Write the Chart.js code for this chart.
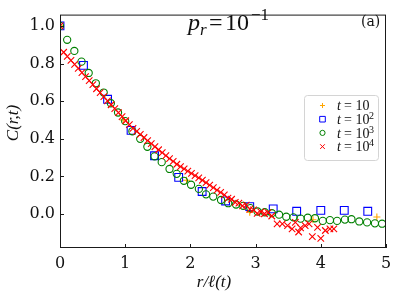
<!DOCTYPE html>
<html>
<head>
<meta charset="utf-8">
<script src="https://cdn.jsdelivr.net/npm/chart.js@4.4.1/dist/chart.umd.min.js"></script>
<style>
  html, body { margin: 0; padding: 0; background: #fff; }
</style>
</head>
<body>
<canvas id="corrChart" width="398" height="298"></canvas>
<script>
// axis ticks
const xTicks = [0, 1, 2, 3, 4, 5];
const yTicks = [0.0, 0.2, 0.4, 0.6, 0.8, 1.0];

// t = 10
const r10 = [0, 0.97, 1.94, 2.91, 3.88, 4.86];
const c10 = [1.0, 0.50, 0.18, 0.01, -0.03, -0.015];

// t = 10^2
const r100 = [0, 0.36, 0.73, 1.09, 1.45, 1.82, 2.18, 2.54, 2.91, 3.27, 3.63, 4.0, 4.36, 4.72];
const c100 = [1.0, 0.79, 0.61, 0.445, 0.31, 0.195, 0.12, 0.07, 0.04, 0.028, 0.015, 0.02, 0.02, 0.015];

// t = 10^3
const r1000 = [0, 0.11, 0.22, 0.33, 0.44, 0.55, 0.67, 0.78, 0.89, 1.0, 1.11, 1.23, 1.34, 1.45, 1.56,
  1.68, 1.79, 1.9, 2.01, 2.13, 2.24, 2.35, 2.47, 2.58, 2.7, 2.81, 2.92, 3.03, 3.14, 3.25, 3.36,
  3.47, 3.58, 3.69, 3.8, 3.91, 4.03, 4.14, 4.25, 4.37, 4.47, 4.59, 4.71, 4.83, 4.94];
const c1000 = [1.0, 0.926, 0.867, 0.81, 0.75, 0.695, 0.646, 0.589, 0.54, 0.494, 0.44, 0.40, 0.358, 0.307, 0.276,
  0.24, 0.214, 0.177, 0.156, 0.134, 0.105, 0.093, 0.075, 0.058, 0.051, 0.044, 0.032, 0.014, 0.01, 0.005, -0.003,
  -0.014, -0.017, -0.024, -0.019, -0.022, -0.036, -0.032, -0.036, -0.029, -0.027, -0.039, -0.044, -0.049, -0.051];

// t = 10^4
const r10000 = [0, 0.056, 0.112, 0.168, 0.224, 0.28, 0.336, 0.392, 0.448, 0.504, 0.56, 0.616, 0.672, 0.728,
  0.784, 0.84, 0.896, 0.952, 1.008, 1.064, 1.12, 1.176, 1.232, 1.288, 1.344, 1.4, 1.456, 1.512, 1.568,
  1.624, 1.68, 1.736, 1.792, 1.848, 1.904, 1.96, 2.016, 2.072, 2.128, 2.184, 2.24, 2.296, 2.352, 2.408,
  2.464, 2.52, 2.576, 2.632, 2.688, 2.744, 2.8, 2.856, 2.912, 2.968, 3.024, 3.08, 3.136, 3.192, 3.248,
  3.33, 3.41, 3.49, 3.56, 3.61, 3.66, 3.69, 3.76, 3.82, 3.87, 3.95, 4.0, 4.07, 4.14, 4.2];
const c10000 = [1.0, 0.86, 0.838, 0.817, 0.795, 0.774, 0.752, 0.731, 0.709, 0.688, 0.666, 0.645, 0.624, 0.602,
  0.581, 0.56, 0.539, 0.518, 0.496, 0.475, 0.456, 0.44, 0.424, 0.407, 0.391, 0.375, 0.358, 0.342, 0.327,
  0.311, 0.295, 0.28, 0.265, 0.252, 0.24, 0.228, 0.216, 0.204, 0.192, 0.18, 0.167, 0.154, 0.141, 0.128,
  0.115, 0.102, 0.085, 0.079, 0.062, 0.058, 0.044, 0.048, 0.026, 0.022, 0.004, 0.012, 0.002, 0.008, -0.01,
  -0.052, -0.052, -0.061, -0.078, -0.044, -0.095, -0.073, -0.061, -0.052, -0.12, -0.07, -0.129, -0.087, -0.078, -0.078];

const toPts = (xs, ys) => xs.map((v, i) => ({ x: v, y: ys[i] }));

const series = [
  { label: "t = 10",  sup: "",  data: toPts(r10, c10),       color: "#ffa500", style: "cross",    radius: 3.5, order: 3 },
  { label: "t = 10",  sup: "2", data: toPts(r100, c100),     color: "#0000ff", style: "rect",     radius: 5.5, order: 2 },
  { label: "t = 10",  sup: "3", data: toPts(r1000, c1000),   color: "#008000", style: "circle",   radius: 3.6, order: 1 },
  { label: "t = 10",  sup: "4", data: toPts(r10000, c10000), color: "#ff0000", style: "crossRot", radius: 4.6, order: 0 },
];

const serif = "'Liberation Serif', 'DejaVu Serif', serif";

const decor = {
  id: "decor",
  afterDatasetsDraw(chart) {
    const { ctx, chartArea: a, scales: { x, y } } = chart;
    ctx.save();
    ctx.strokeStyle = "#1a1a1a";
    ctx.lineWidth = 1;
    ctx.strokeRect(a.left + 0.5, a.top + 0.5, a.right - a.left - 1, a.bottom - a.top - 1);
    ctx.beginPath();
    xTicks.forEach(v => {
      const px = Math.round(x.getPixelForValue(v)) + 0.5;
      ctx.moveTo(px, a.bottom);
      ctx.lineTo(px, a.bottom - 4);
    });
    yTicks.forEach(v => {
      const py = Math.round(y.getPixelForValue(v)) + 0.5;
      ctx.moveTo(a.left, py);
      ctx.lineTo(a.left + 4, py);
    });
    ctx.stroke();
    ctx.restore();
  },
  afterDraw(chart) {
    const { ctx, chartArea: a } = chart;
    ctx.save();
    ctx.fillStyle = "#111";

    // axis titles
    ctx.textAlign = "center";
    ctx.textBaseline = "middle";
    ctx.font = "italic 17px " + serif;
    ctx.fillText("r/\u2113(t)", 214, 283);
    ctx.save();
    ctx.translate(14, 123);
    ctx.rotate(-Math.PI / 2);
    ctx.fillText("C(r,t)", 0, 0);
    ctx.restore();

    // p_r = 10^-1
    ctx.textAlign = "left";
    ctx.textBaseline = "alphabetic";
    ctx.font = "italic 24px " + serif;
    ctx.fillText("p", 188, 30);
    ctx.font = "italic 17px " + serif;
    ctx.fillText("r", 200, 35);
    ctx.font = "24px " + serif;
    ctx.fillText("=", 209, 30);
    ctx.fillText("10", 225, 30);
    ctx.font = "17px " + serif;
    ctx.fillText("\u22121", 251, 20);

    // panel tag
    ctx.font = "14px 'DejaVu Serif', serif";
    ctx.fillText("(a)", 361, 26);

    // legend
    ctx.beginPath();
    ctx.roundRect(304.5, 95.5, 74, 65, 3);
    ctx.fillStyle = "rgba(255,255,255,0.8)";
    ctx.fill();
    ctx.strokeStyle = "#d4d4d4";
    ctx.lineWidth = 1;
    ctx.stroke();
    series.forEach((s, i) => {
      const yy = 105.5 + i * 13.7;
      ctx.strokeStyle = s.color;
      ctx.fillStyle = "rgba(0,0,0,0)";
      ctx.lineWidth = 1;
      Chart.helpers.drawPoint(ctx, { pointStyle: s.style, radius: s.radius * 0.72, borderWidth: 1, rotation: 0 }, 322.5, yy);
      ctx.fillStyle = "#111";
      ctx.textBaseline = "middle";
      ctx.font = "italic 14px " + serif;
      ctx.fillText("t", 337, yy + 1);
      ctx.font = "14px " + serif;
      ctx.fillText("= 10", 344, yy + 1);
      if (s.sup) {
        ctx.font = "10px " + serif;
        ctx.fillText(s.sup, 369, yy - 3);
      }
    });
    ctx.restore();
  }
};

new Chart(document.getElementById("corrChart"), {
  type: "scatter",
  data: {
    datasets: series.map(s => ({
      label: s.label + s.sup,
      data: s.data,
      order: s.order,
      pointStyle: s.style,
      pointRadius: s.radius,
      pointBorderColor: s.color,
      pointBackgroundColor: "rgba(0,0,0,0)",
      pointBorderWidth: 1.1,
      clip: 0,
    })),
  },
  options: {
    responsive: false,
    animation: false,
    layout: { padding: { top: 6, right: 12, left: 0, bottom: 0 } },
    plugins: { legend: { display: false }, tooltip: { enabled: false } },
    scales: {
      x: {
        type: "linear",
        min: 0,
        max: 5,
        afterFit: s => { s.height = 50; },
        afterBuildTicks: s => { s.ticks = xTicks.map(v => ({ value: v })); },
        grid: { display: false, drawTicks: false },
        border: { display: false },
        ticks: { autoSkip: false, padding: 6, color: "#111", font: { family: "DejaVu Serif", size: 16 }, callback: v => String(v) },
      },
      y: {
        type: "linear",
        min: -0.18,
        max: 1.06,
        afterFit: s => { s.width = 60; },
        afterBuildTicks: s => { s.ticks = yTicks.map(v => ({ value: v })); },
        grid: { display: false, drawTicks: false },
        border: { display: false },
        ticks: { autoSkip: false, padding: 5, color: "#111", font: { family: "DejaVu Serif", size: 16 }, callback: v => v.toFixed(1) },
      },
    },
  },
  plugins: [decor],
});
</script>
</body>
</html>
